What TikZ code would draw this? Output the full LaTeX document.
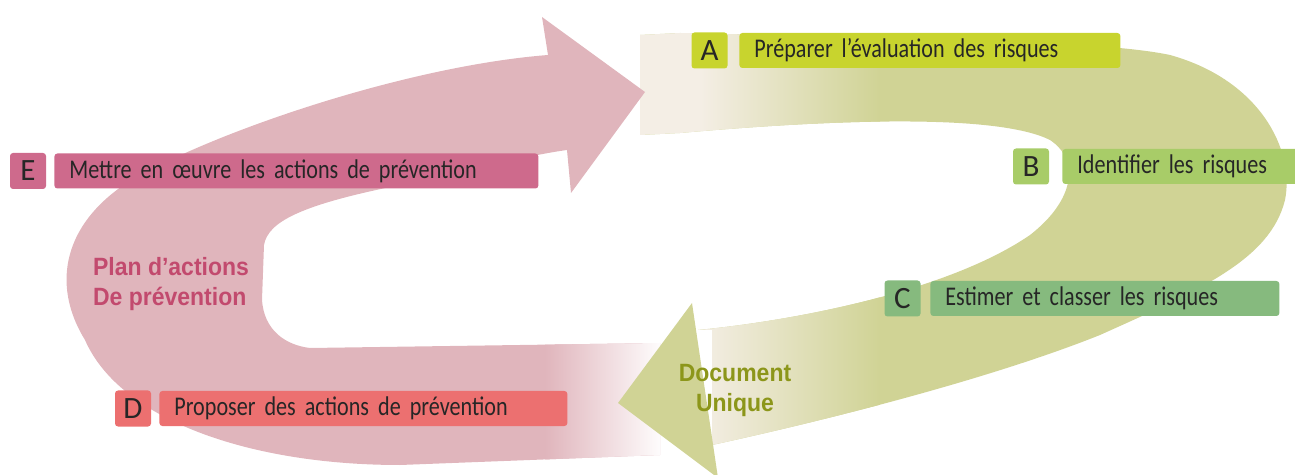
\documentclass[tikz,border=0pt]{standalone}
\usepackage{fontspec}
\setmainfont[FakeStretch=0.82]{Carlito}
\newfontfamily\letterfont{Carlito}
\newfontfamily\bandfont[FakeStretch=0.92]{Liberation Sans}
\definecolor{rose}{RGB}{224,181,188}
\definecolor{olive}{RGB}{208,211,149}
\definecolor{cream}{RGB}{244,238,229}
\definecolor{planred}{RGB}{194,74,110}
\definecolor{docgreen}{RGB}{140,150,26}
\definecolor{colA}{RGB}{200,212,46}
\definecolor{colB}{RGB}{168,204,104}
\definecolor{colC}{RGB}{134,186,126}
\definecolor{colD}{RGB}{236,112,112}
\definecolor{colE}{RGB}{206,106,140}

\begin{document}
\begin{tikzpicture}[x=0.5pt,y=-0.5pt,
    letter/.style={fill=#1,rounded corners=1.5pt,minimum width=18pt,minimum height=18pt,
      inner sep=0pt,text=black!85,font=\letterfont\fontsize{15.5}{15.5}\selectfont},
    stage/.style={fill=#1,rounded corners=1.5pt,anchor=west,minimum height=17.5pt,
      inner xsep=7.5pt,inner ysep=0pt,align=left,text=black!85,
      font=\fontsize{13.5}{13.5}\selectfont},
    bandtext/.style={font=\bandfont\bfseries\fontsize{12.5}{15}\selectfont,align=#1}]

  \useasboundingbox (0,0) rectangle (1295,475);

  % green band, from cream to olive
  \begin{scope}
    \clip (640,35) -- (680,33) .. controls (900,38) and (1100,40) .. (1170,55)
      .. controls (1260,80) and (1295,150) .. (1285,200)
      .. controls (1270,260) and (1200,290) .. (1100,335)
      .. controls (1000,375) and (850,415) .. (712,445) -- (712,330)
      -- (698,330) .. controls (800,320) and (950,290) .. (1030,235)
      .. controls (1075,200) and (1080,160) .. (1050,140)
      .. controls (1000,115) and (850,118) .. (680,133) -- (640,135) -- cycle;
    \fill[olive] (600,0) rectangle (1295,475);
    \shade[left color=cream,right color=olive] (700,0) rectangle (880,475);
    \fill[cream] (600,0) rectangle (700,475);
  \end{scope}

  % pink band, fading out at the bottom
  \begin{scope}
    \clip (660,343) -- (310,348) .. controls (285,345) and (264,330) .. (262,300)
      -- (264,245) .. controls (268,222) and (300,205) .. (400,185)
      .. controls (470,170) and (530,155) .. (567,150) -- (571,193) -- (645,92)
      -- (542,17) -- (548,55) .. controls (420,65) and (250,120) .. (160,165)
      .. controls (70,205) and (45,275) .. (85,340)
      .. controls (120,420) and (250,465) .. (400,465) -- (660,455) -- cycle;
    \fill[rose] (0,0) rectangle (700,475);
    \shade[left color=rose,right color=white] (545,320) rectangle (665,475);
  \end{scope}

  \fill[olive] (692,303) -- (618,403) -- (718,478) -- cycle;

  \node[letter=colA] (sA) at (709.5,50.5) {A};
  \node[stage=colA,text width=175.5pt] (tA) at (739,50.5) {Préparer l’évaluation des risques};
  \node[letter=colB] (sB) at (1031,166.5) {B};
  \node[stage=colB,text width=105pt] (tB) at (1062,166.5) {Identifier les risques};
  \node[letter=colC] (sC) at (902.5,298.5) {C};
  \node[stage=colC,text width=159.5pt] (tC) at (930,298.5) {Estimer et classer les risques};
  \node[letter=colD] (sD) at (133,408.5) {D};
  \node[stage=colD,text width=189pt] (tD) at (159,408.5) {Proposer des actions de prévention};
  \node[letter=colE] (sE) at (28,171) {E};
  \node[stage=colE,text width=227pt] (tE) at (54,171) {Mettre en œuvre les actions de prévention};

  \node[bandtext=left,text=planred,anchor=west] (plan) at (86,284) {Plan d’actions\\De prévention};
  \node[bandtext=center,text=docgreen] (doc) at (735,390) {Document\\Unique};

\end{tikzpicture}
\end{document}
